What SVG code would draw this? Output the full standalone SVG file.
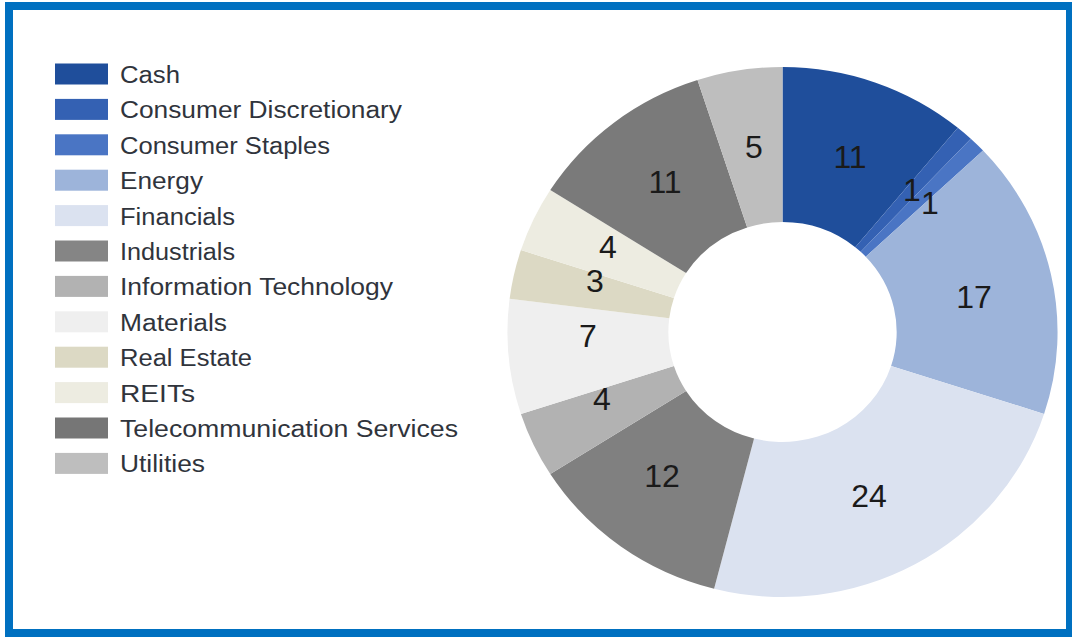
<svg xmlns="http://www.w3.org/2000/svg" width="1072" height="637" viewBox="0 0 1072 637">
<style>
.lg{font-family:"Liberation Sans",Arial,sans-serif;font-size:23px;fill:#30343c}
.val{font-family:"Liberation Sans",Arial,sans-serif;font-size:32px;fill:#1a1a1a;text-anchor:middle}
</style>
<rect x="0" y="0" width="1072" height="637" fill="#ffffff"/>
<rect x="9" y="6" width="1061" height="627" fill="none" stroke="#0070C0" stroke-width="8"/>
<g id="legend">
<g id="lg-cash"><rect x="55" y="63.5" width="53" height="21" fill="#1F4E9B"/><text class="lg" x="120" y="83" textLength="60" lengthAdjust="spacingAndGlyphs">Cash</text></g>
<g id="lg-cd"><rect x="55" y="98.9" width="53" height="21" fill="#3461B3"/><text class="lg" x="120" y="118.4" textLength="282" lengthAdjust="spacingAndGlyphs">Consumer Discretionary</text></g>
<g id="lg-cs"><rect x="55" y="134.3" width="53" height="21" fill="#4A75C4"/><text class="lg" x="120" y="153.8" textLength="210" lengthAdjust="spacingAndGlyphs">Consumer Staples</text></g>
<g id="lg-energy"><rect x="55" y="169.7" width="53" height="21" fill="#9DB4DA"/><text class="lg" x="120" y="189.2" textLength="83" lengthAdjust="spacingAndGlyphs">Energy</text></g>
<g id="lg-fin"><rect x="55" y="205.1" width="53" height="21" fill="#DBE2F0"/><text class="lg" x="120" y="224.6" textLength="115" lengthAdjust="spacingAndGlyphs">Financials</text></g>
<g id="lg-ind"><rect x="55" y="240.5" width="53" height="21" fill="#858585"/><text class="lg" x="120" y="260" textLength="115" lengthAdjust="spacingAndGlyphs">Industrials</text></g>
<g id="lg-it"><rect x="55" y="275.9" width="53" height="21" fill="#B2B2B2"/><text class="lg" x="120" y="295.4" textLength="273" lengthAdjust="spacingAndGlyphs">Information Technology</text></g>
<g id="lg-mat"><rect x="55" y="311.3" width="53" height="21" fill="#EFEFEF"/><text class="lg" x="120" y="330.8" textLength="107" lengthAdjust="spacingAndGlyphs">Materials</text></g>
<g id="lg-re"><rect x="55" y="346.7" width="53" height="21" fill="#DCD9C4"/><text class="lg" x="120" y="366.2" textLength="132" lengthAdjust="spacingAndGlyphs">Real Estate</text></g>
<g id="lg-reits"><rect x="55" y="382.1" width="53" height="21" fill="#EDECE1"/><text class="lg" x="120" y="401.6" textLength="75" lengthAdjust="spacingAndGlyphs">REITs</text></g>
<g id="lg-tel"><rect x="55" y="417.5" width="53" height="21" fill="#767676"/><text class="lg" x="120" y="437" textLength="338" lengthAdjust="spacingAndGlyphs">Telecommunication Services</text></g>
<g id="lg-util"><rect x="55" y="452.9" width="53" height="21" fill="#BEBEBE"/><text class="lg" x="120" y="472.4" textLength="85" lengthAdjust="spacingAndGlyphs">Utilities</text></g>
</g>
<g id="donut" transform="translate(782.5 332) scale(1.038 1)">
<path id="s-cash" fill="#1F4E9B" d="M0,-265 A265,265 0 0 1 168.9,-204.2 L70.1,-84.8 A110,110 0 0 0 0,-110 Z"/>
<path id="s-cd" fill="#3461B3" d="M168.9,-204.2 A265,265 0 0 1 181.4,-193.2 L75.3,-80.2 A110,110 0 0 0 70.1,-84.8 Z"/>
<path id="s-cs" fill="#4A75C4" d="M181.4,-193.2 A265,265 0 0 1 193.2,-181.4 L80.2,-75.3 A110,110 0 0 0 75.3,-80.2 Z"/>
<path id="s-energy" fill="#9DB4DA" d="M193.2,-181.4 A265,265 0 0 1 252.0,81.9 L104.6,34.0 A110,110 0 0 0 80.2,-75.3 Z"/>
<path id="s-fin" fill="#DBE2F0" d="M252.0,81.9 A265,265 0 0 1 -65.9,256.7 L-27.4,106.5 A110,110 0 0 0 104.6,34.0 Z"/>
<path id="s-ind" fill="#808080" d="M-65.9,256.7 A265,265 0 0 1 -223.7,142.0 L-92.9,58.9 A110,110 0 0 0 -27.4,106.5 Z"/>
<path id="s-it" fill="#B2B2B2" d="M-223.7,142.0 A265,265 0 0 1 -252.0,81.9 L-104.6,34.0 A110,110 0 0 0 -92.9,58.9 Z"/>
<path id="s-mat" fill="#EFEFEF" d="M-252.0,81.9 A265,265 0 0 1 -262.9,-33.2 L-109.1,-13.8 A110,110 0 0 0 -104.6,34.0 Z"/>
<path id="s-re" fill="#DCD9C4" d="M-262.9,-33.2 A265,265 0 0 1 -252.0,-81.9 L-104.6,-34.0 A110,110 0 0 0 -109.1,-13.8 Z"/>
<path id="s-reits" fill="#EDECE1" d="M-252.0,-81.9 A265,265 0 0 1 -223.7,-142.0 L-92.9,-58.9 A110,110 0 0 0 -104.6,-34.0 Z"/>
<path id="s-tel" fill="#7A7A7A" d="M-223.7,-142.0 A265,265 0 0 1 -81.9,-252.0 L-34.0,-104.6 A110,110 0 0 0 -92.9,-58.9 Z"/>
<path id="s-util" fill="#BEBEBE" d="M-81.9,-252.0 A265,265 0 0 1 0,-265 L0,-110 A110,110 0 0 0 -34.0,-104.6 Z"/>
</g>
<g id="labels">
<text class="val" x="850" y="168">11</text>
<text class="val" x="912" y="201">1</text>
<text class="val" x="930" y="214">1</text>
<text class="val" x="974" y="308">17</text>
<text class="val" x="869" y="507">24</text>
<text class="val" x="662" y="487">12</text>
<text class="val" x="602" y="410">4</text>
<text class="val" x="588" y="347">7</text>
<text class="val" x="595" y="292">3</text>
<text class="val" x="608" y="258">4</text>
<text class="val" x="665" y="193">11</text>
<text class="val" x="754" y="158">5</text>
</g>
</svg>
